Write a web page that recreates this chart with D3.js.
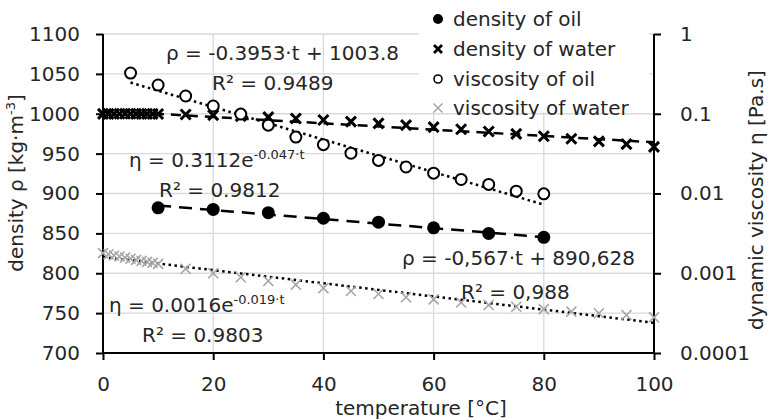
<!DOCTYPE html>
<html>
<head>
<meta charset="utf-8">
<script src="https://cdn.jsdelivr.net/npm/d3@7"></script>
<style>
  body { margin: 0; background: #fff; }
  text { font-family: "DejaVu Sans", sans-serif; fill: #262626; }
</style>
</head>
<body>
<script>
// temperatures [°C]
var tempOilRho = [10, 20, 30, 40, 50, 60, 70, 80];
var tempOilEta = [5, 10, 15, 20, 25, 30, 35, 40, 45, 50, 55, 60, 65, 70, 75, 80];
var tempWater = [0, 1, 2, 3, 4, 5, 6, 7, 8, 9, 10, 15, 20, 25, 30, 35, 40, 45, 50, 55, 60, 65, 70, 75, 80, 85, 90, 95, 100];

// density [kg/m3]
var oilRho = [882, 880, 876, 869, 864, 857, 850, 845];
var waterRho = [999.8, 999.9, 999.9, 1000, 1000, 1000, 999.9, 999.9, 999.9, 999.8, 999.7, 999.1, 998.2, 997.0, 995.7, 994.0, 992.2, 990.2, 988.0, 985.7, 983.2, 980.6, 977.8, 974.8, 971.8, 968.6, 965.3, 961.9, 958.4];

// dynamic viscosity [Pa.s]
var oilEta = [0.324, 0.229, 0.167, 0.125, 0.099, 0.072, 0.051, 0.041, 0.032, 0.026, 0.0215, 0.018, 0.015, 0.013, 0.0107, 0.0099];
var waterEta = [0.00179, 0.00173, 0.00167, 0.00162, 0.00157, 0.00152, 0.00147, 0.00143, 0.00139, 0.00135, 0.00131, 0.00114, 0.00100, 0.00089, 0.00080, 0.00072, 0.00065, 0.00060, 0.00055, 0.00050, 0.00047, 0.00043, 0.00040, 0.00038, 0.000355, 0.00033, 0.000315, 0.00030, 0.00028];

// trendline coefficients (from the labels)
var oilRhoFit = [-0.567, 890.628];
var waterRhoFit = [-0.3953, 1003.8];
var oilEtaFit = [0.3112, -0.047];
var waterEtaFit = [0.0016, -0.019];

// ticks
var xTicks = [0, 20, 40, 60, 80, 100];
var rhoTicks = [700, 750, 800, 850, 900, 950, 1000, 1050, 1100];
var etaTicks = [0.0001, 0.001, 0.01, 0.1, 1];
var legendNames = ["density of oil", "density of water", "viscosity of oil", "viscosity of water"];

var width = 769, height = 419;
var margin = { top: 34, right: 115, bottom: 66, left: 103 };
var fs = 20;

var svg = d3.select("body").append("svg")
  .attr("width", width)
  .attr("height", height);

var x = d3.scaleLinear().domain([0, 100]).range([margin.left, width - margin.right]);
var y = d3.scaleLinear().domain([700, 1100]).range([height - margin.bottom, margin.top]);
var yLog = d3.scaleLog().domain([0.0001, 1]).range([height - margin.bottom, margin.top]);

// gridlines
svg.append("g").selectAll("line").data(rhoTicks.slice(1)).join("line")
  .attr("x1", x(0)).attr("x2", x(100))
  .attr("y1", function (d) { return y(d); }).attr("y2", function (d) { return y(d); })
  .attr("stroke", "#d9d9d9").attr("stroke-width", 1.3);
svg.append("g").selectAll("line").data(xTicks.slice(1, -1)).join("line")
  .attr("x1", function (d) { return x(d); }).attr("x2", function (d) { return x(d); })
  .attr("y1", y(1100)).attr("y2", y(700))
  .attr("stroke", "#d9d9d9").attr("stroke-width", 1.3);

// axes
var fmtEta = function (d) { return d >= 1 ? "1" : String(+d.toFixed(4)); };
var axB = svg.append("g").attr("transform", "translate(0," + y(700) + ")")
  .call(d3.axisBottom(x).tickValues(xTicks).tickSize(7).tickPadding(17));
var axL = svg.append("g").attr("transform", "translate(" + x(0) + ",0)")
  .call(d3.axisLeft(y).tickValues(rhoTicks).tickFormat(d3.format("d")).tickSize(7).tickPadding(16));
var axR = svg.append("g").attr("transform", "translate(" + x(100) + ",0)")
  .call(d3.axisRight(yLog).tickValues(etaTicks).tickFormat(fmtEta).tickSize(7).tickPadding(19));
[axB, axL, axR].forEach(function (a) {
  a.select(".domain").attr("stroke", "#000").attr("stroke-width", 2);
  a.selectAll(".tick line").attr("stroke", "#000").attr("stroke-width", 2);
  a.selectAll(".tick text").attr("font-size", fs).attr("font-family", "DejaVu Sans").attr("fill", "#262626");
});
axB.select(".domain").attr("d", "M" + x(0) + ",0H" + x(100));
axL.select(".domain").attr("d", "M0," + y(1100) + "V" + y(700));
axR.select(".domain").attr("d", "M0," + yLog(1) + "V" + yLog(0.0001));

// trendlines
var lineRho = d3.line().x(function (d) { return x(d[0]); }).y(function (d) { return y(d[1]); });
var lineEta = d3.line().x(function (d) { return x(d[0]); }).y(function (d) { return yLog(d[1]); });

function linFit(ts, c) { return ts.map(function (t) { return [t, c[0] * t + c[1]]; }); }
function expFit(ts, c) { return ts.map(function (t) { return [t, c[0] * Math.exp(c[1] * t)]; }); }

svg.append("path").attr("d", lineRho(linFit([0, 100], waterRhoFit)))
  .attr("fill", "none").attr("stroke", "#000").attr("stroke-width", 2.5).attr("stroke-dasharray", "10,7");
svg.append("path").attr("d", lineRho(linFit([10, 80], oilRhoFit)))
  .attr("fill", "none").attr("stroke", "#000").attr("stroke-width", 2.5).attr("stroke-dasharray", "13,8");
svg.append("path").attr("d", lineEta(expFit(tempOilEta, oilEtaFit)))
  .attr("fill", "none").attr("stroke", "#000").attr("stroke-width", 2.5).attr("stroke-dasharray", "2.5,3.5");
svg.append("path").attr("d", lineEta(expFit(tempWater, waterEtaFit)))
  .attr("fill", "none").attr("stroke", "#000").attr("stroke-width", 2.5).attr("stroke-dasharray", "2.5,3.5");

// markers
function cross(sel, cx, cy, s, color, w) {
  sel.append("path")
    .attr("d", "M" + (cx - s) + "," + (cy - s) + "L" + (cx + s) + "," + (cy + s) + "M" + (cx - s) + "," + (cy + s) + "L" + (cx + s) + "," + (cy - s))
    .attr("stroke", color).attr("stroke-width", w).attr("fill", "none");
}
var gm = svg.append("g");
tempWater.forEach(function (t, i) { cross(gm, x(t), yLog(waterEta[i]), 5, "#a6a6a6", 1.6); });
tempWater.forEach(function (t, i) { cross(gm, x(t), y(waterRho[i]), 5, "#000", 3); });
gm.selectAll("circle.oe").data(tempOilEta).join("circle").attr("class", "oe")
  .attr("cx", function (d) { return x(d); })
  .attr("cy", function (d, i) { return yLog(oilEta[i]); })
  .attr("r", 5.5).attr("fill", "#fff").attr("stroke", "#000").attr("stroke-width", 2);
gm.selectAll("circle.or").data(tempOilRho).join("circle").attr("class", "or")
  .attr("cx", function (d) { return x(d); })
  .attr("cy", function (d, i) { return y(oilRho[i]); })
  .attr("r", 6.5).attr("fill", "#000");

// trendline labels
function label(tx, ty, main, sup) {
  var t = svg.append("text").attr("x", tx).attr("y", ty).attr("font-size", fs);
  t.append("tspan").text(main);
  if (sup) t.append("tspan").attr("font-size", 13).attr("dy", -8).text(sup);
  return t;
}
label(166, 60, "ρ = -0.3953·t + 1003.8");
label(212, 90, "R² = 0.9489");
label(129, 167, "η = 0.3112e", "-0.047·t");
label(159, 197, "R² = 0.9812");
label(402, 265, "ρ = -0,567·t + 890,628");
label(461, 299, "R² = 0,988");
label(109, 312, "η = 0.0016e", "-0.019·t");
label(142, 342, "R² = 0.9803");

// axis titles
svg.append("text").attr("x", 421).attr("y", 415).attr("text-anchor", "middle")
  .attr("font-size", fs).text("temperature [°C]");
var tl = svg.append("text").attr("transform", "translate(23,183) rotate(-90)")
  .attr("text-anchor", "middle").attr("font-size", fs);
tl.append("tspan").text("density ρ  [kg·m");
tl.append("tspan").attr("font-size", 13).attr("dy", -8).text("-3");
tl.append("tspan").attr("dy", 8).text("]");
svg.append("text").attr("transform", "translate(763,200) rotate(-90)")
  .attr("text-anchor", "middle").attr("font-size", fs).text("dynamic viscosity  η [Pa.s]");

// legend
var lg = svg.append("g");
lg.append("rect").attr("x", 419).attr("y", 0).attr("width", 230).attr("height", 112).attr("fill", "#fff");
var rowY = [19, 49, 79, 108];
lg.append("circle").attr("cx", 438).attr("cy", rowY[0]).attr("r", 5).attr("fill", "#000");
cross(lg, 438, rowY[1], 4, "#000", 2.8);
lg.append("circle").attr("cx", 438).attr("cy", rowY[2]).attr("r", 4).attr("fill", "#fff").attr("stroke", "#000").attr("stroke-width", 1.6);
cross(lg, 438, rowY[3], 4.5, "#a6a6a6", 1.5);
lg.selectAll("text").data(legendNames).join("text")
  .attr("x", 453).attr("y", function (d, i) { return rowY[i] + 7; })
  .attr("font-size", fs).text(function (d) { return d; });
</script>
</body>
</html>
